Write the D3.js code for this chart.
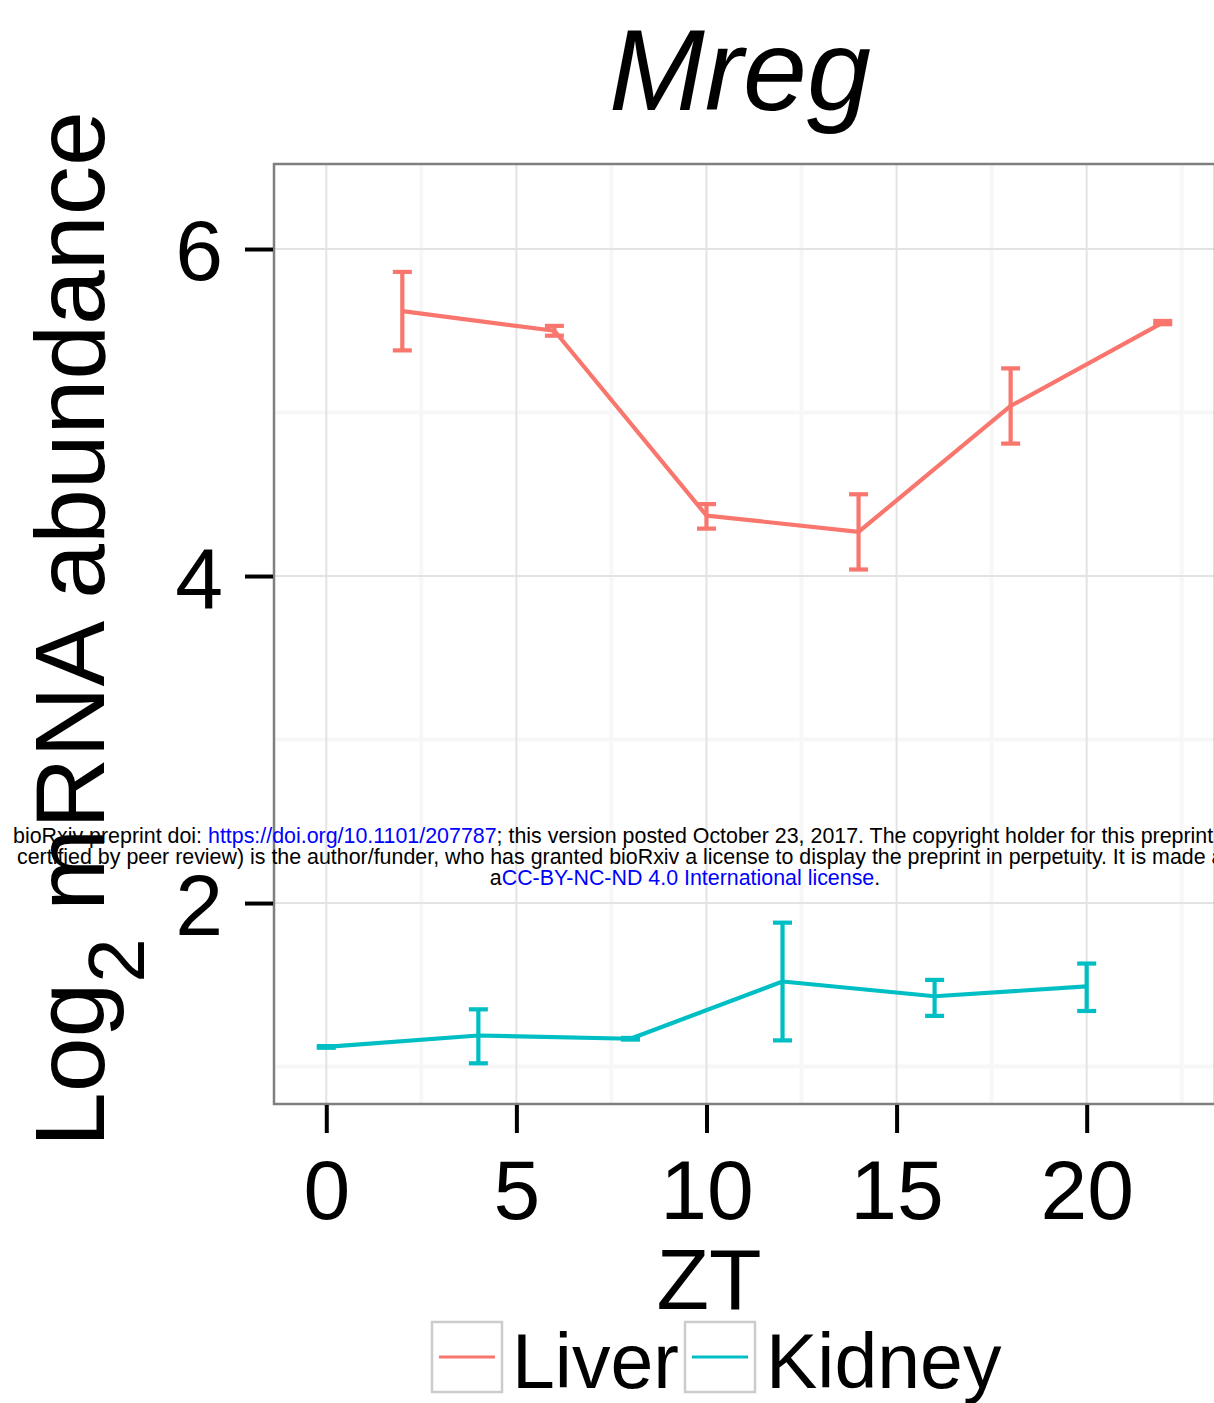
<!DOCTYPE html>
<html>
<head>
<meta charset="utf-8">
<script src="https://cdn.jsdelivr.net/npm/d3@7"></script>
<style>
  html, body { margin: 0; padding: 0; background: #ffffff; }
  svg { display: block; font-family: "Liberation Sans", Arial, Helvetica, sans-serif; }
</style>
</head>
<body>
<svg id="chart" width="1214" height="1403"></svg>
<script>
// Mreg expression over the day (ZT), mean ± error per tissue
const liverZT    = [2, 6, 10, 14, 18, 22];
const liverMean  = [5.62, 5.50, 4.37, 4.27, 5.04, 5.55];
const liverLow   = [5.38, 5.47, 4.29, 4.04, 4.81, 5.54];
const liverHigh  = [5.86, 5.53, 4.44, 4.50, 5.27, 5.56];

const kidneyZT   = [0, 4, 8, 12, 16, 20];
const kidneyMean = [1.12, 1.19, 1.17, 1.52, 1.43, 1.49];
const kidneyLow  = [1.115, 1.02, 1.165, 1.16, 1.31, 1.34];
const kidneyHigh = [1.125, 1.35, 1.175, 1.88, 1.53, 1.63];

const xTicks = [0, 5, 10, 15, 20];
const xMinor = [2.5, 7.5, 12.5, 17.5, 22.5];
const yTicks = [2, 4, 6];
const yMinor = [1, 3, 5];

const tissues = ["Liver", "Kidney"];
const tissueColors = ["#F8766D", "#00BFC4"];

const series = [
  { name: "Liver",  zt: liverZT,  mean: liverMean,  lo: liverLow,  hi: liverHigh },
  { name: "Kidney", zt: kidneyZT, mean: kidneyMean, lo: kidneyLow, hi: kidneyHigh }
];

const svg = d3.select("#chart");
const panel = { left: 274, right: 1215, top: 164, bottom: 1104 };

const x = d3.scaleLinear().domain([-1.375, 23.375]).range([panel.left, panel.right]);
const y = d3.scaleLinear().domain([0.771, 6.52]).range([panel.bottom, panel.top]);
const color = d3.scaleOrdinal().domain(tissues).range(tissueColors);

// panel background
svg.append("rect")
  .attr("x", panel.left).attr("y", panel.top)
  .attr("width", panel.right - panel.left).attr("height", panel.bottom - panel.top)
  .attr("fill", "#ffffff");

// minor grid
const grid = svg.append("g");
grid.selectAll(".vmin").data(xMinor).join("line")
  .attr("x1", d => x(d)).attr("x2", d => x(d))
  .attr("y1", panel.top).attr("y2", panel.bottom)
  .attr("stroke", "#f7f7f7").attr("stroke-width", 4);
grid.selectAll(".hmin").data(yMinor).join("line")
  .attr("y1", d => y(d)).attr("y2", d => y(d))
  .attr("x1", panel.left).attr("x2", panel.right)
  .attr("stroke", "#f7f7f7").attr("stroke-width", 4);
// major grid
grid.selectAll(".vmaj").data(xTicks).join("line")
  .attr("x1", d => x(d)).attr("x2", d => x(d))
  .attr("y1", panel.top).attr("y2", panel.bottom)
  .attr("stroke", "#e3e3e3").attr("stroke-width", 2);
grid.selectAll(".hmaj").data(yTicks).join("line")
  .attr("y1", d => y(d)).attr("y2", d => y(d))
  .attr("x1", panel.left).attr("x2", panel.right)
  .attr("stroke", "#e3e3e3").attr("stroke-width", 2);

// data: lines + error bars
const capHalf = 0.25;
series.forEach(s => {
  const pts = s.zt.map((z, i) => ({ z, m: s.mean[i], lo: s.lo[i], hi: s.hi[i] }));
  const g = svg.append("g").attr("stroke", color(s.name)).attr("fill", "none");
  g.append("path")
    .attr("d", d3.line().x(d => x(d.z)).y(d => y(d.m))(pts))
    .attr("stroke-width", 4.2).attr("stroke-linejoin", "round");
  const eb = g.selectAll(".eb").data(pts).join("g").attr("stroke-width", 4.2);
  eb.append("line")
    .attr("x1", d => x(d.z)).attr("x2", d => x(d.z))
    .attr("y1", d => y(d.lo)).attr("y2", d => y(d.hi));
  eb.append("line")
    .attr("x1", d => x(d.z - capHalf)).attr("x2", d => x(d.z + capHalf))
    .attr("y1", d => y(d.hi)).attr("y2", d => y(d.hi));
  eb.append("line")
    .attr("x1", d => x(d.z - capHalf)).attr("x2", d => x(d.z + capHalf))
    .attr("y1", d => y(d.lo)).attr("y2", d => y(d.lo));
});

// panel border
svg.append("rect")
  .attr("x", panel.left).attr("y", panel.top)
  .attr("width", panel.right - panel.left).attr("height", panel.bottom - panel.top)
  .attr("fill", "none").attr("stroke", "#7f7f7f").attr("stroke-width", 2.5);

// axes
const xAxis = d3.axisBottom(x).tickValues(xTicks).tickSize(28).tickPadding(26).tickFormat(d3.format("d"));
const gx = svg.append("g").attr("transform", `translate(0,${panel.bottom + 1})`).call(xAxis);
gx.select(".domain").remove();
gx.selectAll(".tick line").attr("stroke", "#000").attr("stroke-width", 4);
gx.selectAll(".tick text").attr("fill", "#000").attr("font-size", 84)
  .attr("font-family", "Liberation Sans, Arial, sans-serif");

const yAxis = d3.axisLeft(y).tickValues(yTicks).tickSize(28).tickPadding(22).tickFormat(d3.format("d"));
const gy = svg.append("g").attr("transform", `translate(${panel.left - 1},0)`).call(yAxis);
gy.select(".domain").remove();
gy.selectAll(".tick line").attr("stroke", "#000").attr("stroke-width", 4);
gy.selectAll(".tick text").attr("fill", "#000").attr("font-size", 86)
  .attr("font-family", "Liberation Sans, Arial, sans-serif").attr("dy", "0.36em");

// title
svg.append("text")
  .attr("x", 740).attr("y", 110)
  .attr("text-anchor", "middle")
  .attr("font-size", 115).attr("font-style", "italic")
  .text("Mreg");

// x title
svg.append("text")
  .attr("x", 709).attr("y", 1309)
  .attr("text-anchor", "middle")
  .attr("font-size", 86)
  .text("ZT");

// y title with subscript
const yt = svg.append("text")
  .attr("transform", "translate(104,1147) rotate(-90)")
  .attr("font-size", 98.5);
yt.append("tspan").text("Log");
yt.append("tspan").attr("font-size", 80).attr("dy", 40).text("2");
yt.append("tspan").attr("dy", -40).text(" mRNA abundance");

// legend
const legendItems = [
  { name: "Liver",  bx: 432, tx: 512 },
  { name: "Kidney", bx: 685, tx: 766 }
];
const lg = svg.append("g");
legendItems.forEach(it => {
  lg.append("rect")
    .attr("x", it.bx).attr("y", 1322).attr("width", 70).attr("height", 70)
    .attr("fill", "#ffffff").attr("stroke", "#cccccc").attr("stroke-width", 2.5);
  lg.append("line")
    .attr("x1", it.bx + 7).attr("x2", it.bx + 63)
    .attr("y1", 1357).attr("y2", 1357)
    .attr("stroke", color(it.name)).attr("stroke-width", 3);
  lg.append("text")
    .attr("x", it.tx).attr("y", 1388)
    .attr("font-size", 77)
    .text(it.name);
});

// preprint notice
const note = svg.append("g").attr("font-size", 21.4).attr("fill", "#000");
const l1 = note.append("text").attr("x", 13).attr("y", 843);
l1.append("tspan").text("bioRxiv preprint doi: ");
l1.append("tspan").attr("fill", "#0000ff").text("https://doi.org/10.1101/207787");
l1.append("tspan").text("; this version posted October 23, 2017. The copyright holder for this preprint (which was not");
note.append("text").attr("x", 17).attr("y", 864)
  .text("certified by peer review) is the author/funder, who has granted bioRxiv a license to display the preprint in perpetuity. It is made available under a");
const l3 = note.append("text").attr("x", 685).attr("y", 885).attr("text-anchor", "middle");
l3.append("tspan").text("a");
l3.append("tspan").attr("fill", "#0000ff").text("CC-BY-NC-ND 4.0 International license");
l3.append("tspan").text(".");
</script>
</body>
</html>
